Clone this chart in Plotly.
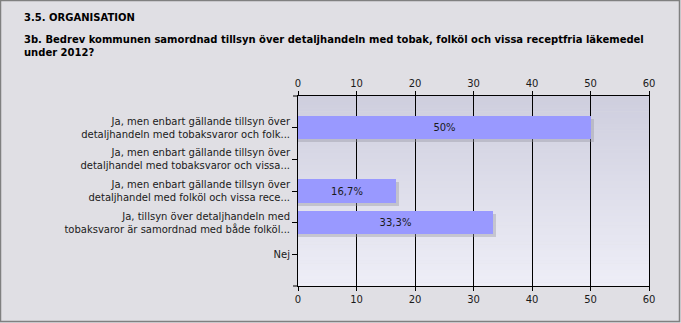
import plotly.graph_objects as go

categories = [
    "Ja, men enbart gällande tillsyn över<br>detaljhandeln med tobaksvaror och folk...",
    "Ja, men enbart gällande tillsyn över<br>detaljhandel med tobaksvaror och vissa...",
    "Ja, men enbart gällande tillsyn över<br>detaljhandel med folköl och vissa rece...",
    "Ja, tillsyn över detaljhandeln med<br>tobaksvaror är samordnad med både folköl...",
    "Nej",
]
values = [50, 0, 16.7, 33.3, 0]
x_ticks = [0, 10, 20, 30, 40, 50, 60]

title1 = "3.5. ORGANISATION"
title2 = "3b. Bedrev kommunen samordnad tillsyn över detaljhandeln med tobak, folköl och vissa receptfria läkemedel<br>under 2012?"

FONT = "DejaVu Sans, sans-serif"
W, H = 681, 323
L, R, T, B = 298, 32, 96, 37
pw = W - L - R
ph = H - T - B

labels = [("" if v == 0 else (f"{v:g}".replace(".", ",") + "%")) for v in values]
shadow_vals = [None if v == 0 else v + 60 * 3 / pw for v in values]

bw = 0.74
fig = go.Figure()
fig.add_trace(go.Bar(
    x=shadow_vals, y=categories, orientation="h",
    width=bw, offset=-bw / 2 + 3 / (ph / 6),
    marker=dict(color="rgba(150,150,160,0.4)", line=dict(width=0)),
    hoverinfo="skip", showlegend=False,
))
fig.add_trace(go.Bar(
    x=values, y=categories, orientation="h",
    width=bw, offset=-bw / 2,
    marker=dict(color="#9999ff", line=dict(width=0)),
    text=labels, textposition="inside", insidetextanchor="middle",
    textfont=dict(family=FONT, size=10, color="#1a1a1a"),
    textangle=0, cliponaxis=False,
    showlegend=False,
))

# vertical gradient background of the plot area
n = 60
top = (206, 206, 222)
bot = (238, 238, 247)
shapes = []
for i in range(n):
    f = i / (n - 1)
    c = tuple(round(top[k] + (bot[k] - top[k]) * f) for k in range(3))
    shapes.append(dict(
        type="rect", xref="x domain", yref="y domain",
        x0=0, x1=1, y0=1 - (i + 1) / n, y1=1 - i / n + 0.002,
        fillcolor=f"rgb{c}", line=dict(width=0), layer="below",
    ))
# small tick stubs at the top/bottom corners
for yy in (0, 1):
    shapes.append(dict(type="line", xref="x domain", yref="y domain",
                       x0=-5 / pw, x1=0, y0=yy, y1=yy,
                       line=dict(color="black", width=1)))
# outer frame
shapes.append(dict(type="rect", xref="paper", yref="paper",
                   x0=-L / pw + 0.5 / pw, x1=1 + (R - 1.5) / pw,
                   y0=-(B - 1.5) / ph, y1=1 + (T - 0.5) / ph,
                   line=dict(color="#808080", width=1.5), layer="below"))

fig.update_layout(
    width=W, height=H,
    margin=dict(l=L, r=R, t=T, b=B),
    paper_bgcolor="#e0dfe4",
    plot_bgcolor="rgba(0,0,0,0)",
    barmode="overlay",
    bargap=0,
    shapes=shapes,
    font=dict(family=FONT, size=10, color="#1a1a1a"),
    xaxis=dict(
        range=[0, 60], tickvals=x_ticks, showgrid=True, gridcolor="black", gridwidth=1,
        showline=True, linecolor="black", linewidth=1,
        ticks="outside", ticklen=4, tickcolor="black",
        zeroline=False, fixedrange=True, side="bottom",
        tickfont=dict(family=FONT, size=10, color="#1a1a1a"),
    ),
    xaxis2=dict(
        range=[0, 60], tickvals=x_ticks, overlaying="x", side="top", matches="x",
        showgrid=False, showline=True, linecolor="black", linewidth=1,
        ticks="outside", ticklen=4, tickcolor="black", zeroline=False,
        tickfont=dict(family=FONT, size=10, color="#1a1a1a"),
    ),
    yaxis=dict(
        categoryorder="array", categoryarray=categories,
        range=[4 + 1, -1], showline=True, linecolor="black", linewidth=1,
        mirror=True,
        ticks="outside", ticklen=5, tickcolor="black",
        showgrid=False, zeroline=False,
        tickfont=dict(family=FONT, size=10, color="#1a1a1a"),
    ),
    annotations=[
        dict(text="<b>" + title1 + "</b>", xref="paper", yref="paper",
             x=-(L - 22) / pw, y=1 + (T - 10) / ph, xanchor="left", yanchor="top",
             showarrow=False, align="left",
             font=dict(family=FONT, size=10, color="black")),
        dict(text="<b>" + title2.replace("<br>", "</b><br><b>") + "</b>", xref="paper", yref="paper",
             x=-(L - 22) / pw, y=1 + (T - 32) / ph, xanchor="left", yanchor="top",
             showarrow=False, align="left",
             font=dict(family=FONT, size=10, color="black")),
    ],
)
fig.add_trace(go.Scatter(x=[None], y=[None], xaxis="x2", showlegend=False, hoverinfo="skip"))

fig.write_html("out.html")
